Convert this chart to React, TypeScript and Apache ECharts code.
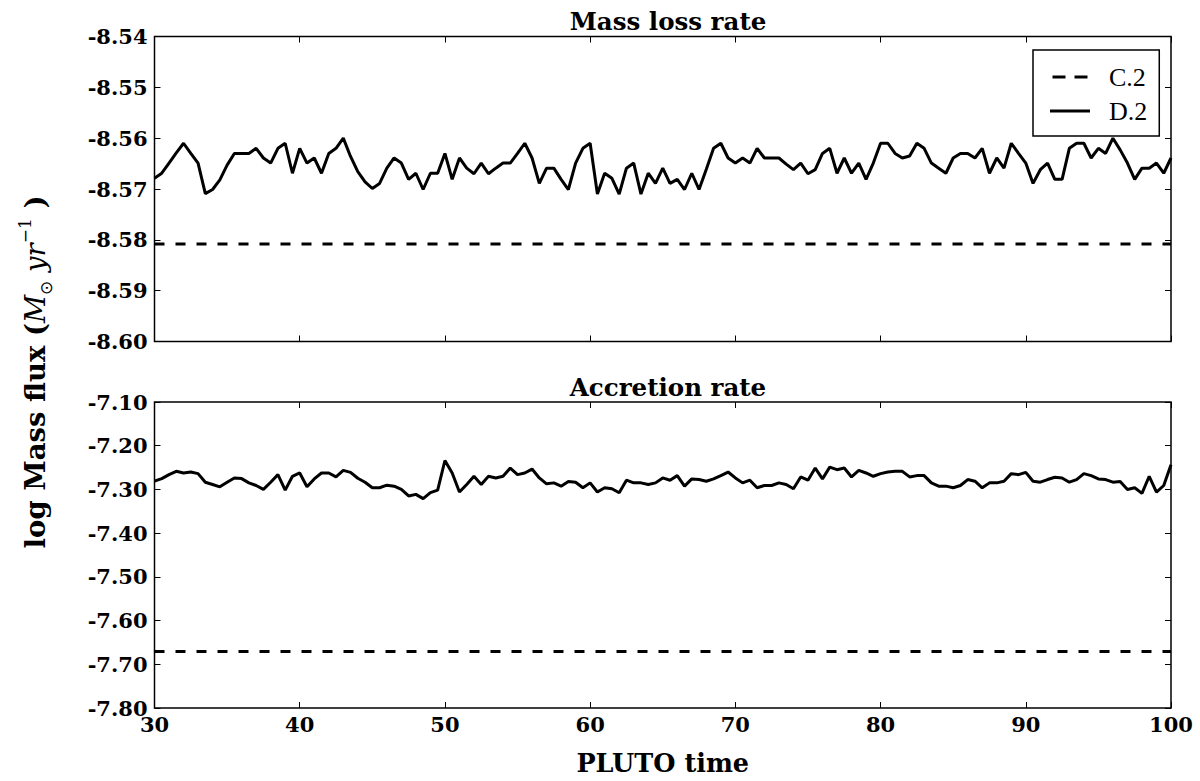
import React, { useEffect, useRef } from "react";
import * as echarts from "echarts";

// PLUTO time samples (every 0.5)
const TIME = [
  30, 30.5, 31, 31.5, 32, 32.5, 33, 33.5, 34, 34.5,
  35, 35.5, 36, 36.5, 37, 37.5, 38, 38.5, 39, 39.5,
  40, 40.5, 41, 41.5, 42, 42.5, 43, 43.5, 44, 44.5,
  45, 45.5, 46, 46.5, 47, 47.5, 48, 48.5, 49, 49.5,
  50, 50.5, 51, 51.5, 52, 52.5, 53, 53.5, 54, 54.5,
  55, 55.5, 56, 56.5, 57, 57.5, 58, 58.5, 59, 59.5,
  60, 60.5, 61, 61.5, 62, 62.5, 63, 63.5, 64, 64.5,
  65, 65.5, 66, 66.5, 67, 67.5, 68, 68.5, 69, 69.5,
  70, 70.5, 71, 71.5, 72, 72.5, 73, 73.5, 74, 74.5,
  75, 75.5, 76, 76.5, 77, 77.5, 78, 78.5, 79, 79.5,
  80, 80.5, 81, 81.5, 82, 82.5, 83, 83.5, 84, 84.5,
  85, 85.5, 86, 86.5, 87, 87.5, 88, 88.5, 89, 89.5,
  90, 90.5, 91, 91.5, 92, 92.5, 93, 93.5, 94, 94.5,
  95, 95.5, 96, 96.5, 97, 97.5, 98, 98.5, 99, 99.5,
  100,
];

// D.2 mass loss rate, log(Msun/yr)
const MASS_LOSS_D2 = [
  -8.5679, -8.5669, -8.5649, -8.5629, -8.561, -8.563, -8.5649, -8.5709, -8.5701, -8.5682,
  -8.5653, -8.563, -8.563, -8.563, -8.562, -8.5639, -8.5649, -8.562, -8.561, -8.5669,
  -8.562, -8.5649, -8.5639, -8.5669, -8.563, -8.562, -8.56, -8.5636, -8.5666, -8.5686,
  -8.5699, -8.5689, -8.5659, -8.5639, -8.5649, -8.5681, -8.5669, -8.5701, -8.5669, -8.5669,
  -8.563, -8.5681, -8.5639, -8.5659, -8.567, -8.5649, -8.567, -8.5659, -8.5649, -8.5649,
  -8.563, -8.561, -8.5639, -8.5689, -8.5659, -8.5659, -8.5681, -8.5701, -8.5649, -8.562,
  -8.561, -8.571, -8.5669, -8.5679, -8.571, -8.5659, -8.5649, -8.571, -8.5669, -8.5689,
  -8.5659, -8.5689, -8.5681, -8.5701, -8.5669, -8.5701, -8.5661, -8.562, -8.561, -8.5639,
  -8.5649, -8.5639, -8.5649, -8.562, -8.5639, -8.5639, -8.5639, -8.5651, -8.5662, -8.5649,
  -8.567, -8.5662, -8.563, -8.562, -8.5669, -8.5639, -8.5669, -8.5649, -8.5681, -8.5649,
  -8.561, -8.561, -8.563, -8.5639, -8.5635, -8.561, -8.562, -8.5649, -8.5659, -8.5669,
  -8.5639, -8.563, -8.563, -8.5639, -8.562, -8.5669, -8.5639, -8.5659, -8.561, -8.563,
  -8.5649, -8.5689, -8.5662, -8.5649, -8.5681, -8.5681, -8.562, -8.561, -8.561, -8.5639,
  -8.562, -8.563, -8.56, -8.5623, -8.5649, -8.5681, -8.5659, -8.5659, -8.5649, -8.5669,
  -8.5639,
];

// D.2 accretion rate, log(Msun/yr)
const ACCRETION_D2 = [
  -7.2812, -7.2752, -7.2662, -7.2586, -7.2624, -7.2602, -7.2639, -7.2835, -7.2887, -7.294,
  -7.2835, -7.2737, -7.2752, -7.285, -7.291, -7.3, -7.2835, -7.2662, -7.3015, -7.2699,
  -7.2624, -7.294, -7.2759, -7.2624, -7.2624, -7.2714, -7.2564, -7.2609, -7.2744, -7.2835,
  -7.2962, -7.2962, -7.2902, -7.2925, -7.3, -7.315, -7.3113, -7.3211, -7.3075, -7.3015,
  -7.2338, -7.2624, -7.306, -7.2887, -7.2699, -7.2887, -7.2699, -7.2737, -7.2699, -7.2511,
  -7.2662, -7.2624, -7.2534, -7.2737, -7.2872, -7.285, -7.2925, -7.282, -7.2835, -7.2962,
  -7.285, -7.306, -7.2962, -7.2985, -7.3075, -7.2789, -7.285, -7.285, -7.2887, -7.285,
  -7.2737, -7.2789, -7.2684, -7.2925, -7.2759, -7.2774, -7.2812, -7.2759, -7.2684, -7.2602,
  -7.2737, -7.285, -7.2789, -7.2962, -7.291, -7.291, -7.285, -7.2887, -7.2985, -7.2714,
  -7.2789, -7.2511, -7.2759, -7.2489, -7.2549, -7.2511, -7.2714, -7.2564, -7.2624, -7.2699,
  -7.2639, -7.2602, -7.2586, -7.2586, -7.2714, -7.2684, -7.2684, -7.285, -7.2925, -7.2925,
  -7.2962, -7.291, -7.2774, -7.2812, -7.2962, -7.285, -7.285, -7.2812, -7.2639, -7.2662,
  -7.2609, -7.2812, -7.2835, -7.2774, -7.2722, -7.2737, -7.2835, -7.2774, -7.2639, -7.2684,
  -7.2759, -7.2774, -7.2835, -7.282, -7.3, -7.2962, -7.309, -7.2699, -7.306, -7.291,
  -7.2436,
];

// C.2 constant levels
const MASS_LOSS_C2 = -8.5808;
const ACCRETION_C2 = -7.671;
const T_RANGE = [30, 100];

const BOLD = "DejaVu Serif";

// legend icons drawn as filled bars (dashed / solid)
const DASH_ICON = "path://M0,0h13v3h-13z M22,0h13v3h-13z";
const SOLID_ICON = "path://M0,0h42v3h-42z";

const App = () => {
  const chartRef = useRef<HTMLDivElement>(null);

  useEffect(() => {
    if (!chartRef.current) return;
    const chart = echarts.init(chartRef.current, undefined, { renderer: "svg" });

    const tick = { show: true, inside: true, length: 6, lineStyle: { color: "#000", width: 1 } };
    const label = { fontFamily: BOLD, fontWeight: "bold" as const, fontSize: 21, color: "#000" };

    const xBase = (grid: number, position: "top" | "bottom", showLabel: boolean) => ({
      type: "value" as const,
      gridIndex: grid,
      position,
      min: 30,
      max: 100,
      interval: 10,
      axisLine: { show: false },
      axisTick: tick,
      splitLine: { show: false },
      axisLabel: { show: showLabel, margin: 6, ...label },
    });

    const yBase = (grid: number, position: "left" | "right", min: number, max: number, interval: number, showLabel: boolean) => ({
      type: "value" as const,
      gridIndex: grid,
      position,
      min,
      max,
      interval,
      axisLine: { show: false },
      axisTick: tick,
      splitLine: { show: false },
      axisLabel: { show: showLabel, margin: 7, ...label, formatter: (v: number) => v.toFixed(2) },
    });

    const d2 = (vals: number[]) => TIME.map((t, i) => [t, vals[i]]);
    const c2 = (v: number) => T_RANGE.map((t) => [t, v]);

    const solid = { color: "#000", width: 3 };
    const dashed = { color: "#000", width: 3, type: [10, 11] as number[] };

    const option: echarts.EChartsOption = {
      animation: false,
      backgroundColor: "#fff",
      title: [
        {
          text: "Mass loss rate",
          left: 663,
          top: 4,
          textAlign: "center",
          textStyle: { fontFamily: BOLD, fontWeight: "bold", fontSize: 24.5, color: "#000" },
        },
        {
          text: "Accretion rate",
          left: 663,
          top: 370,
          textAlign: "center",
          textStyle: { fontFamily: BOLD, fontWeight: "bold", fontSize: 24.5, color: "#000" },
        },
      ],
      legend: {
        left: 1033,
        top: 50,
        orient: "vertical",
        padding: [14, 12, 12, 17],
        itemGap: 8,
        itemWidth: 40,
        itemHeight: 3,
        borderColor: "#000",
        borderWidth: 1.5,
        borderRadius: 0,
        textStyle: {
          fontFamily: "Liberation Serif",
          fontSize: 26,
          color: "#000",
          lineHeight: 25,
          padding: [0, 0, 0, 14],
        },
        data: [
          { name: "C.2", icon: DASH_ICON, itemStyle: { color: "#000" } },
          { name: "D.2", icon: SOLID_ICON, itemStyle: { color: "#000" } },
        ],
      },
      grid: [
        { left: 154.5, top: 36.5, width: 1016.5, height: 305, show: true, borderColor: "#000", borderWidth: 1.5, backgroundColor: "transparent" },
        { left: 154.5, top: 402, width: 1016.5, height: 306, show: true, borderColor: "#000", borderWidth: 1.5, backgroundColor: "transparent" },
      ],
      xAxis: [
        xBase(0, "bottom", false),
        xBase(0, "top", false),
        {
          ...xBase(1, "bottom", true),
          name: "PLUTO time",
          nameLocation: "middle",
          nameGap: 42,
          nameTextStyle: { fontFamily: BOLD, fontWeight: "bold", fontSize: 25.5, color: "#000" },
        },
        xBase(1, "top", false),
      ],
      yAxis: [
        yBase(0, "left", -8.6, -8.54, 0.01, true),
        yBase(0, "right", -8.6, -8.54, 0.01, false),
        yBase(1, "left", -7.8, -7.1, 0.1, true),
        yBase(1, "right", -7.8, -7.1, 0.1, false),
      ],
      graphic: [
        {
          type: "text",
          x: 35,
          y: 372,
          rotation: Math.PI / 2,
          style: {
            text: "{b|log Mass flux }{b|(}{i|M}{s|⊙}{i| yr}{p|−1}{b| )}",
            align: "center",
            verticalAlign: "middle",
            rich: {
              b: { fontFamily: BOLD, fontWeight: "bold", fontSize: 27.5, fill: "#000", lineHeight: 38, verticalAlign: "middle" },
              i: { fontFamily: "DejaVu Serif", fontStyle: "italic", fontSize: 27.5, fill: "#000", lineHeight: 38, verticalAlign: "middle" },
              s: { fontFamily: "DejaVu Sans", fontSize: 17, fill: "#000", lineHeight: 38, verticalAlign: "bottom" },
              p: { fontFamily: "DejaVu Serif", fontSize: 17, fill: "#000", lineHeight: 38, verticalAlign: "top" },
            },
          } as any,
        },
      ],
      series: [
        { name: "C.2", type: "line", xAxisIndex: 0, yAxisIndex: 0, data: c2(MASS_LOSS_C2), showSymbol: false, symbol: "none", lineStyle: dashed, itemStyle: { color: "#000" } },
        { name: "D.2", type: "line", xAxisIndex: 0, yAxisIndex: 0, data: d2(MASS_LOSS_D2), showSymbol: false, symbol: "none", lineStyle: solid, itemStyle: { color: "#000" } },
        { name: "C.2", type: "line", xAxisIndex: 2, yAxisIndex: 2, data: c2(ACCRETION_C2), showSymbol: false, symbol: "none", lineStyle: dashed, itemStyle: { color: "#000" } },
        { name: "D.2", type: "line", xAxisIndex: 2, yAxisIndex: 2, data: d2(ACCRETION_D2), showSymbol: false, symbol: "none", lineStyle: solid, itemStyle: { color: "#000" } },
      ],
    };

    chart.setOption(option);

    return () => {
      chart.dispose();
    };
  }, []);

  return (
    <div
      ref={chartRef}
      style={{ position: "fixed", left: 0, top: 0, width: "1200px", height: "781px", background: "#fff" }}
    />
  );
};

export default App;
